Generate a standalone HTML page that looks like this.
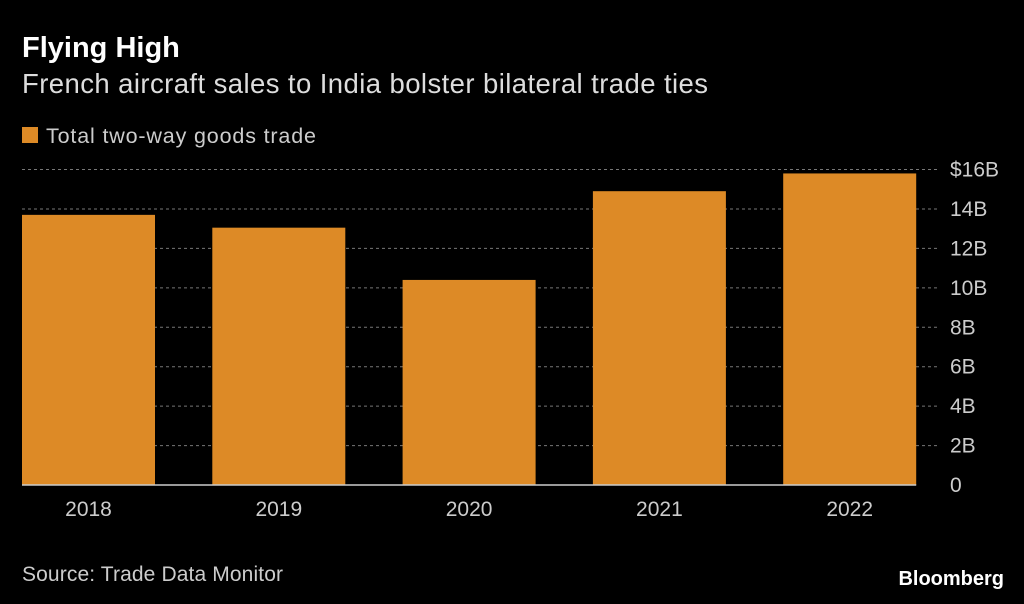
<!DOCTYPE html>
<html><head><meta charset="utf-8"><style>
body{margin:0;background:#000;width:1024px;height:604px;overflow:hidden;font-family:"Liberation Sans",sans-serif;color:#ddd}
svg{position:absolute;left:0;top:0}
</style></head><body>
<svg width="1024" height="604">
<text x="22" y="57" font-size="29" font-weight="bold" fill="#fff">Flying High</text>
<text x="22" y="93" font-size="27.5" fill="#ddd" textLength="686">French aircraft sales to India bolster bilateral trade ties</text>
<rect x="22" y="127" width="16" height="16" fill="#dd8a26"/>
<text x="46" y="143" font-size="21.5" fill="#ccc" textLength="270">Total two-way goods trade</text>
<g id="grid"></g><g id="bars"></g><g id="labels"></g>
<text x="22" y="581" font-size="21" fill="#ccc" textLength="261">Source: Trade Data Monitor</text>
<text x="1004" y="585" font-size="20" font-weight="bold" fill="#fff" text-anchor="end">Bloomberg</text>
</svg>
<script>
const categories=["2018","2019","2020","2021","2022"];
const values=[13.7,13.05,10.4,14.9,15.8];
const ticks=[0,2,4,6,8,10,12,14,16];
const tickLabels=["0","2B","4B","6B","8B","10B","12B","14B","$16B"];
const NS="http://www.w3.org/2000/svg";
const y0=485,yTop=169.5,left=22,right=940,step=190.3,bw=133;
const y=v=>y0-(y0-yTop)*v/16;
const x=i=>left+i*step;
function mk(t,a,p){const e=document.createElementNS(NS,t);for(const k in a)e.setAttribute(k,a[k]);p.appendChild(e);return e;}
const g=document.getElementById('grid'),b=document.getElementById('bars'),l=document.getElementById('labels');
ticks.forEach((t,i)=>{
 if(t>0){const ln=mk('line',{x1:left,x2:right,y1:y(t),y2:y(t),stroke:'#777','stroke-dasharray':'3,3','stroke-width':1},g);
 
 }
 const tx=mk('text',{x:950,y:y(t)+7,'font-size':21,fill:'#ccc'},l);tx.textContent=tickLabels[i];
 
 
});
values.forEach((v,i)=>{
 const r=mk('rect',{x:x(i),y:y(v),width:bw,height:y0-y(v),fill:'#dd8a26'},b);
 
 
 const tx=mk('text',{x:x(i)+bw/2,y:516,'font-size':21,fill:'#ccc','text-anchor':'middle'},l);tx.textContent=categories[i];
 
 
});
const base=mk('line',{x1:left,x2:x(4)+bw,y1:y0,y2:y0,stroke:'#ccc','stroke-width':1.5},l);


</script>
</body></html>
